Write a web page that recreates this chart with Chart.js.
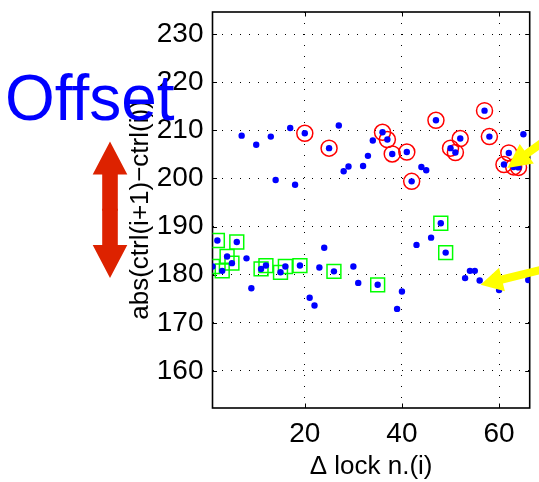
<!DOCTYPE html>
<html>
<head>
<meta charset="utf-8">
<script src="https://cdn.jsdelivr.net/npm/chart.js@4.4.0/dist/chart.umd.min.js"></script>
<style>
  html, body { margin: 0; padding: 0; background: #fff; overflow: hidden; }
  canvas { display: block; }
</style>
</head>
<body>
<canvas id="chart" width="541" height="482"></canvas>
<script>
// Lock step index and the jump of the control value at that step
const lockN = [1, 2, 3, 4, 5, 6, 7, 8, 9, 10, 11, 12, 13, 14, 15, 16, 17, 18, 19, 20,
  21, 22, 23, 24, 25, 26, 27, 28, 29, 30, 31, 32, 33, 34, 35, 36, 37, 38, 39, 40,
  41, 42, 43, 44, 45, 46, 47, 48, 49, 50, 51, 52, 53, 54, 55, 56, 57, 58, 60,
  61, 62, 63, 64, 65, 66];
const ctrlJump = [181.7, 187.1, 180.8, 183.8, 182.4, 186.8, 208.9, 183.4, 177.2, 207.0,
  181.2, 181.9, 208.7, 199.7, 180.5, 181.7, 210.5, 198.7, 181.9, 209.4,
  175.2, 173.6, 181.5, 185.6, 206.3, 180.7, 211.0, 201.5, 202.5, 181.7,
  178.3, 202.6, 204.7, 207.9, 177.9, 209.6, 208.1, 205.1, 172.9, 176.5,
  205.5, 199.4, 186.2, 202.4, 201.7, 187.7, 212.1, 190.7, 184.6, 206.3,
  205.4, 208.3, 179.3, 180.8, 180.8, 178.8, 214.1, 208.7, 176.8,
  202.9, 205.3, 202.4, 202.3, 209.2, 178.9];

// Steps marked with red circles (upper level) and green squares (lower level)
const circledSteps = [20, 25, 36, 37, 38, 41, 42, 47, 50, 51, 52, 57, 58, 61, 62, 63, 64];
const boxedSteps = [1, 2, 3, 4, 5, 6, 11, 12, 15, 16, 19, 26, 35, 48, 49];

const xTicks = [20, 40, 60];
const yTicks = [160, 170, 180, 190, 200, 210, 220, 230];

const points = lockN.map((n, i) => ({ x: n, y: ctrlJump[i] }));
const pick = steps => points.filter(p => steps.includes(p.x));

// Filled arrow from tip back along angle (degrees, canvas coords)
function drawArrow(ctx, tx, ty, angle, len, headLen, headHalf, shaftHalf) {
    const a = angle * Math.PI / 180;
    const dx = Math.cos(a), dy = Math.sin(a);
    const nx = -dy, ny = dx;
    const bx = tx + dx * headLen, by = ty + dy * headLen;
    const ex = tx + dx * len, ey = ty + dy * len;
    ctx.beginPath();
    ctx.moveTo(tx, ty);
    ctx.lineTo(bx + nx * headHalf, by + ny * headHalf);
    ctx.lineTo(bx + nx * shaftHalf, by + ny * shaftHalf);
    ctx.lineTo(ex + nx * shaftHalf, ey + ny * shaftHalf);
    ctx.lineTo(ex - nx * shaftHalf, ey - ny * shaftHalf);
    ctx.lineTo(bx - nx * shaftHalf, by - ny * shaftHalf);
    ctx.lineTo(bx - nx * headHalf, by - ny * headHalf);
    ctx.closePath();
    ctx.fill();
}

// Box round the axes with small inward ticks
const axesBox = {
    id: 'axesBox',
    beforeDatasetsDraw(chart) {
        const { ctx, chartArea: a, scales: { x, y } } = chart;
        const tl = 4.5;
        ctx.save();
        ctx.strokeStyle = '#000';
        ctx.lineWidth = 1;
        ctx.beginPath();
        xTicks.forEach(v => {
            const px = Math.round(x.getPixelForValue(v)) + 0.5;
            ctx.moveTo(px, a.bottom); ctx.lineTo(px, a.bottom - tl);
            ctx.moveTo(px, a.top); ctx.lineTo(px, a.top + tl);
        });
        yTicks.forEach(v => {
            const py = Math.round(y.getPixelForValue(v)) + 0.5;
            ctx.moveTo(a.left, py); ctx.lineTo(a.left + tl, py);
            ctx.moveTo(a.right, py); ctx.lineTo(a.right - tl, py);
        });
        ctx.stroke();
        ctx.lineWidth = 1.6;
        ctx.strokeRect(a.left, a.top, a.right - a.left, a.bottom - a.top);
        ctx.restore();
    }
};

// Annotations: "Offset" label, red double arrow, yellow pointers
const annotations = {
    id: 'annotations',
    afterDraw(chart) {
        const { ctx, scales: { x, y } } = chart;
        ctx.save();

        // red double arrow spanning the two levels
        const top = y.getPixelForValue(207.7);
        const bot = y.getPixelForValue(179.3);
        const mid = (top + bot) / 2;
        ctx.fillStyle = '#dd2200';
        drawArrow(ctx, 110, top, 90, mid - top + 1, 33, 17.3, 7.8);
        drawArrow(ctx, 110, bot, -90, bot - mid + 1, 33, 17.3, 7.8);

        ctx.fillStyle = '#0000ff';
        ctx.font = '64px "Liberation Sans", Arial, sans-serif';
        ctx.textBaseline = 'alphabetic';
        ctx.fillText('Offset', 5, 120);

        // yellow pointers
        ctx.fillStyle = '#ffff00';
        drawArrow(ctx, x.getPixelForValue(61.7), y.getPixelForValue(202.2), -36, 80, 24, 12, 4);
        drawArrow(ctx, x.getPixelForValue(56.2), y.getPixelForValue(177.9), -14, 80, 22, 12, 4);
        ctx.restore();
    }
};

const tickFont = { family: '"Liberation Sans", Arial, sans-serif', size: 28 };
const titleFont = { family: '"Liberation Sans", Arial, sans-serif', size: 26 };

new Chart(document.getElementById('chart'), {
    type: 'scatter',
    data: {
        datasets: [
            {
                label: 'steps',
                data: points,
                pointRadius: 3.2,
                pointBackgroundColor: '#0000ff',
                pointBorderWidth: 0
            },
            {
                label: 'circled',
                data: pick(circledSteps),
                pointStyle: 'circle',
                pointRadius: 8,
                pointBackgroundColor: 'rgba(0,0,0,0)',
                pointBorderColor: '#ff0000',
                pointBorderWidth: 1.5
            },
            {
                label: 'boxed',
                data: pick(boxedSteps),
                pointStyle: 'rect',
                pointRadius: 9.8,
                pointBackgroundColor: 'rgba(0,0,0,0)',
                pointBorderColor: '#00ff00',
                pointBorderWidth: 1.5
            }
        ]
    },
    options: {
        responsive: false,
        devicePixelRatio: 1,
        animation: false,
        events: [],
        layout: { padding: { top: 12, right: 0, bottom: 0, left: 0 } },
        plugins: { legend: { display: false }, tooltip: { enabled: false } },
        scales: {
            x: {
                type: 'linear',
                min: 1,
                max: 66.3,
                afterBuildTicks: s => { s.ticks = xTicks.map(v => ({ value: v })); },
                afterFit: s => { s.height = 74; s.paddingLeft = 0; s.paddingRight = 0; },
                grid: { color: '#000', lineWidth: 1, drawTicks: false },
                border: { display: false, dash: [1, 10] },
                ticks: { color: '#000', font: tickFont, padding: 9, maxRotation: 0 },
                title: { display: true, text: '\u0394 lock n.(i)', color: '#000', font: titleFont, padding: { top: 0, bottom: 0 } }
            },
            y: {
                type: 'linear',
                min: 152.3,
                max: 234.6,
                afterBuildTicks: s => { s.ticks = yTicks.map(v => ({ value: v })); },
                afterFit: s => { s.width = 212.5; s.paddingTop = 0; s.paddingBottom = 0; },
                grid: { color: '#000', lineWidth: 1, drawTicks: false },
                border: { display: false, dash: [1, 8] },
                ticks: { color: '#000', font: tickFont, padding: 9 },
                title: { display: true, text: 'abs(ctrl(i+1)\u2212ctrl(i))', color: '#000', font: titleFont, padding: { top: 125, bottom: 0 } }
            }
        }
    },
    plugins: [axesBox, annotations]
});
</script>
</body>
</html>
